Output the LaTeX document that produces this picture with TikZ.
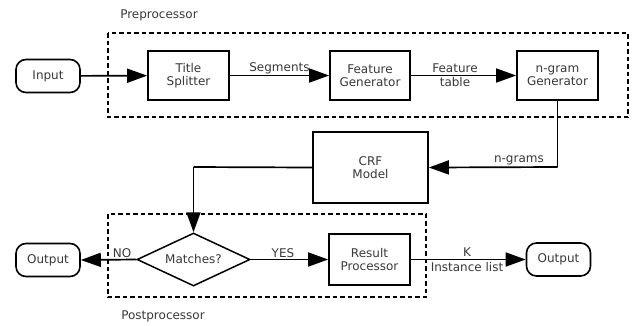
\documentclass[tikz,border=0pt]{standalone}
\usepackage{fontspec}
\setmainfont{DejaVu Sans}
\usetikzlibrary{shapes.geometric,arrows.meta}
\definecolor{txt}{HTML}{383838}
\tikzset{
  every node/.style={font=\fontsize{12}{13.5}\selectfont, text=txt},
  box/.style={draw=black, line width=1.7pt, rectangle, inner sep=0pt, align=center},
  term/.style={draw=black, line width=1.6pt, rectangle, rounded corners=10pt, inner sep=0pt, minimum width=64pt, minimum height=33pt},
  dec/.style={draw=black, line width=1.5pt, diamond, inner sep=0pt, aspect=2.13, minimum width=113pt, minimum height=53pt},
  conn/.style={line width=1.7pt, -{Triangle[length=20pt,width=14pt]}},
  plain/.style={line width=1.7pt},
  group/.style={draw=black, line width=1.7pt, dash pattern=on 4.5pt off 3pt},
  lbl/.style={inner sep=1pt}
}
\begin{document}
\begin{tikzpicture}[x=1pt,y=-1pt]
\useasboundingbox (0,0) rectangle (636,325);
% groups
\draw[group] (108,33) rectangle (628,117);
\draw[group] (108,214) rectangle (426,297);
\node[lbl] (prelbl) at (159,15) {Preprocessor};
\node[lbl] (postlbl) at (163,316) {Postprocessor};
% nodes
\node[term] (in) at (48,76) {Input};
\node[box, minimum width=81pt, minimum height=49pt] (ts) at (188.5,75.5) {Title\\Splitter};
\node[box, minimum width=80pt, minimum height=49pt] (fg) at (370,75.5) {Feature\\Generator};
\node[box, minimum width=81pt, minimum height=49pt] (ng) at (557.5,75.5) {n-gram\\Generator};
\node[box, minimum width=115pt, minimum height=71pt] (crf) at (370.5,167.5) {CRF\\Model};
\node[dec] (dm) at (193.5,259.5) {Matches?};
\node[box, minimum width=81pt, minimum height=51pt] (rp) at (369.5,259.5) {Result\\Processor};
\node[term] (out1) at (48,260) {Output};
\node[term] (out2) at (558.5,259.5) {Output};
\coordinate (c1) at (557.5,167);
\coordinate (c2) at (193.5,167);
% connectors
\draw[conn] (in) -- (ts);
\draw[conn] (ts) -- node[lbl, above] (seg) {Segments} (fg);
\draw[conn] (fg) -- (ng);
\node[lbl] (ft1) at (455,68) {Feature};
\node[lbl] (ft2) at (455,82) {table};
\draw[plain] (ng.south) -- (c1);
\draw[conn] (c1) -- node[lbl, above, pos=0.3] (ngl) {n-grams} (crf.east);
\draw[plain] (crf.west) -- (c2);
\draw[conn] (c2) -- (dm.north);
\draw[conn] (dm.west) -- (out1.east);
\node[lbl] (no) at (122,253) {NO};
\draw[conn] (dm.east) -- (rp.west);
\node[lbl] (yes) at (283,253) {YES};
\draw[conn] (rp.east) -- (out2.west);
\node[lbl] (k) at (467,252) {K};
\node[lbl] (il) at (467,267) {Instance list};
\end{tikzpicture}
\end{document}
